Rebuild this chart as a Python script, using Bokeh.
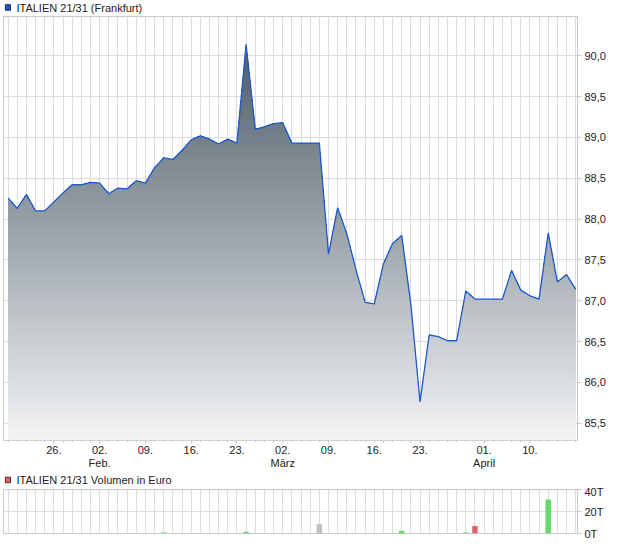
from bokeh.plotting import figure
from bokeh.layouts import column
from bokeh.models import (Range1d, FixedTicker, CustomJSTickFormatter, GlobalInlineStyleSheet)
from bokeh.core.properties import value
from bokeh.embed import file_html
from bokeh.resources import INLINE

# ---- data (trading-day index 0 = 19 Jan 2026) ----
prices = [88.26, 88.13, 88.30, 88.10, 88.10, 88.21, 88.32, 88.42, 88.42, 88.45,
          88.44, 88.31, 88.38, 88.37, 88.47, 88.44, 88.63, 88.75, 88.73, 88.84,
          88.97, 89.02, 88.98, 88.92, 88.98, 88.93, 90.14, 89.10, 89.13, 89.17,
          89.18, 88.93, 88.93, 88.93, 88.93, 87.57, 88.14, 87.82, 87.38, 86.98,
          86.96, 87.45, 87.70, 87.80, 86.95, 85.76, 86.58, 86.56, 86.51, 86.51,
          87.12, 87.02, 87.02, 87.02, 87.02, 87.37, 87.13, 87.06, 87.02, 87.83,
          87.23, 87.32, 87.14]
days = list(range(len(prices)))

tick_days = [5, 10, 15, 20, 25, 30, 35, 40, 45, 52, 57]
tick_labels = ["26.", "02.\nFeb.", "09.", "16.", "23.", "02.\nMärz", "09.", "16.",
               "23.", "01.\nApril", "10."]
y_ticks = [85.5, 86.0, 86.5, 87.0, 87.5, 88.0, 88.5, 89.0, 89.5, 90.0]

vol_days = [17, 26, 34, 43, 50, 51, 59]
vol_values = [900, 1700, 8600, 2600, 900, 6900, 30900]
vol_ticks = [0, 20000, 40000]
vol_tick_labels = ["0T", "20T", "40T"]

title_main = "ITALIEN 21/31 (Frankfurt)"
title_vol = "ITALIEN 21/31 Volumen in Euro"

Y_TOP, Y_BOT = 90.481, 85.288
FONT = "Liberation Sans"
W = 620


def header(h, cy, text, fill, line):
    """Legend-style header strip: coloured swatch + series name (pixel coords, y down)."""
    hp = figure(width=W, height=h, x_range=Range1d(0, W), y_range=Range1d(h, 0),
                output_backend="svg", toolbar_location=None,
                x_axis_location=None, y_axis_location=None,
                min_border=0, min_border_left=0, min_border_right=0,
                min_border_top=0, min_border_bottom=0)
    hp.grid.visible = False
    hp.outline_line_color = None
    hp.quad(left=[2], right=[7.5], top=[cy - 2.8], bottom=[cy + 2.7],
            fill_color=fill, line_color=line, line_width=1)
    hp.text(x=[14], y=[cy], text=[text], text_baseline="middle",
            text_font=value(FONT), text_font_size="11px", text_color="#222222")
    return hp


hp_main = header(16, 7, title_main, "#2456c0", "#1a2f66")

MAIN_H, MAIN_BOT = 456, 32
p = figure(width=W, height=MAIN_H, x_range=Range1d(-0.5, 62.2),
           y_range=Range1d(Y_BOT, Y_TOP), output_backend="svg",
           toolbar_location=None, y_axis_location="right",
           min_border_left=3, min_border_right=43, min_border_top=0,
           min_border_bottom=MAIN_BOT)
p.outline_line_color = "#c8c8c8"
p.xgrid.ticker = FixedTicker(ticks=days)
p.ygrid.ticker = FixedTicker(ticks=y_ticks)
for g in (p.xgrid, p.ygrid):
    g.grid_line_color = "#dcdcdc"
    g.grid_line_width = 1


# gradient area: stacked bands, each clipped to the price line
def clip_top(xs, ys, b):
    ox, oy = [], []
    for j in range(len(xs) - 1):
        ox.append(xs[j]); oy.append(min(ys[j], b))
        if (ys[j] - b) * (ys[j + 1] - b) < 0:
            t = (b - ys[j]) / (ys[j + 1] - ys[j])
            ox.append(xs[j] + t * (xs[j + 1] - xs[j])); oy.append(b)
    ox.append(xs[-1]); oy.append(min(ys[-1], b))
    return ox, oy


c_top = (66, 82, 94)
c_bot = (243, 244, 245)
K = 90
for k in range(K):
    b = Y_TOP - k * (Y_TOP - Y_BOT) / K
    f = (k + 0.5) / K
    col = "#%02x%02x%02x" % tuple(int(round(c_top[i] + f * (c_bot[i] - c_top[i]))) for i in range(3))
    cx, cy = clip_top(days, prices, b)
    p.varea(x=cx, y1=Y_BOT, y2=cy, fill_color=col, fill_alpha=1)

p.line(days, prices, line_color="#1c5ad0", line_width=1.3)

# axes
p.yaxis.ticker = FixedTicker(ticks=y_ticks)
p.yaxis.formatter = CustomJSTickFormatter(code="return tick.toFixed(1).replace('.', ',');")
p.yaxis.axis_line_color = None
p.yaxis.major_tick_out = 4
p.yaxis.major_tick_in = 0
p.yaxis.major_tick_line_color = "#c8c8c8"
p.yaxis.minor_tick_line_color = None
p.yaxis.major_label_text_font = FONT
p.yaxis.major_label_text_font_size = "11px"
p.yaxis.major_label_text_color = "#222222"
p.yaxis.major_label_standoff = 3

p.xaxis.ticker = FixedTicker(ticks=tick_days, minor_ticks=days)
p.xaxis.major_label_overrides = {d: l for d, l in zip(tick_days, tick_labels)}
p.xaxis.axis_line_color = "#d0d0d0"
p.xaxis.major_tick_line_color = "#c8c8c8"
p.xaxis.minor_tick_line_color = "#c8c8c8"
p.xaxis.major_tick_out = 3
p.xaxis.major_tick_in = 0
p.xaxis.minor_tick_out = 2
p.xaxis.minor_tick_in = 0
p.xaxis.major_label_text_font = FONT
p.xaxis.major_label_text_font_size = "11px"
p.xaxis.major_label_text_line_height = 1.1
p.xaxis.major_label_text_color = "#222222"
p.xaxis.major_label_standoff = 0

# ---- volume ----
hp_vol = header(13, 7.5, title_vol, "#d96666", "#5a2020")

vol_colors = []
for d in vol_days:
    if prices[d] > prices[d - 1]:
        vol_colors.append("#66d966")
    elif prices[d] < prices[d - 1]:
        vol_colors.append("#d96666")
    else:
        vol_colors.append("#c0c0c0")

VOL_H, VOL_TOP, VOL_BOT = 61, 4, 13
pv = figure(width=W, height=VOL_H, x_range=p.x_range, y_range=Range1d(0, 40000),
            output_backend="svg", toolbar_location=None, y_axis_location="right",
            x_axis_location=None, min_border_left=3, min_border_right=43,
            min_border_top=VOL_TOP, min_border_bottom=VOL_BOT)
pv.outline_line_color = "#c8c8c8"
pv.xgrid.ticker = FixedTicker(ticks=days)
pv.ygrid.ticker = FixedTicker(ticks=vol_ticks)
for g in (pv.xgrid, pv.ygrid):
    g.grid_line_color = "#dcdcdc"
    g.grid_line_width = 1
pv.vbar(x=vol_days, top=vol_values, width=0.6, fill_color=vol_colors, line_color=None)
pv.yaxis.ticker = FixedTicker(ticks=vol_ticks)
pv.yaxis.major_label_overrides = {t: l for t, l in zip(vol_ticks, vol_tick_labels)}
pv.yaxis.axis_line_color = None
pv.yaxis.major_tick_out = 4
pv.yaxis.major_tick_in = 0
pv.yaxis.major_tick_line_color = "#c8c8c8"
pv.yaxis.minor_tick_line_color = None
pv.yaxis.major_label_text_font = FONT
pv.yaxis.major_label_text_font_size = "11px"
pv.yaxis.major_label_text_color = "#222222"
pv.yaxis.major_label_standoff = 3

layout = column(hp_main, p, hp_vol, pv,
                stylesheets=[GlobalInlineStyleSheet(css="body { margin: 0 !important; }")])
open("out.html", "w").write(file_html(layout, INLINE))
